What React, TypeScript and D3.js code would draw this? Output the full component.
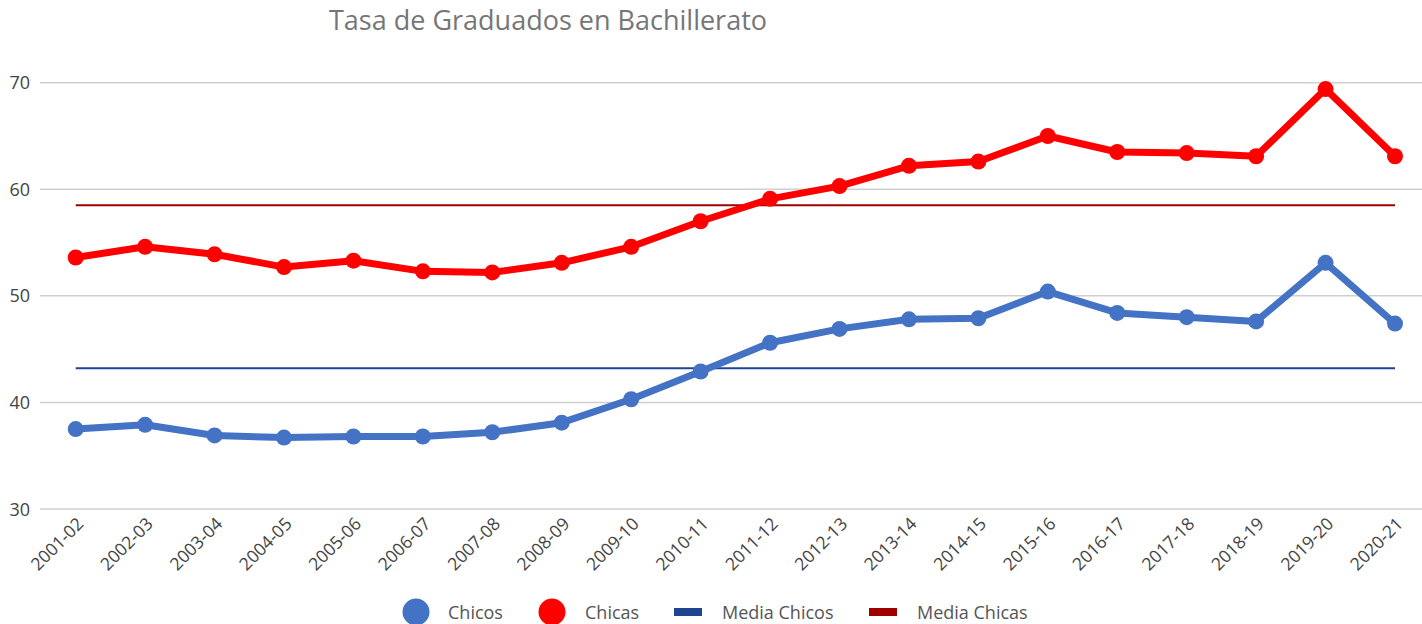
import React, { useEffect, useRef } from 'react';
import * as d3 from 'd3';

const cursos = [
  '2001-02', '2002-03', '2003-04', '2004-05', '2005-06', '2006-07', '2007-08',
  '2008-09', '2009-10', '2010-11', '2011-12', '2012-13', '2013-14', '2014-15',
  '2015-16', '2016-17', '2017-18', '2018-19', '2019-20', '2020-21',
];
const chicos = [
  37.5, 37.9, 36.9, 36.7, 36.8, 36.8, 37.2, 38.1, 40.3, 42.9,
  45.6, 46.9, 47.8, 47.9, 50.4, 48.4, 48.0, 47.6, 53.1, 47.4,
];
const chicas = [
  53.6, 54.6, 53.9, 52.7, 53.3, 52.3, 52.2, 53.1, 54.6, 57.0,
  59.1, 60.3, 62.2, 62.6, 65.0, 63.5, 63.4, 63.1, 69.4, 63.1,
];
const mediaChicos = 43.2;
const mediaChicas = 58.5;
const yTicks = [30, 40, 50, 60, 70];

const W = 1422;
const H = 624;

export default function App() {
  const ref = useRef<SVGSVGElement>(null);

  useEffect(() => {
    if (!ref.current) return;
    const svg = d3.select(ref.current);
    svg.selectAll('*').remove();

    const font = '"Open Sans", "Noto Sans", sans-serif';

    const x = d3.scalePoint<string>().domain(cursos).range([75.7, 1395]);
    const y = d3.scaleLinear().domain([30, 70]).range([509, 82.7]);

    // title
    svg.append('text')
      .attr('x', 548)
      .attr('y', 30)
      .attr('text-anchor', 'middle')
      .style('font-family', font)
      .style('font-size', '27px')
      .style('fill', '#767676')
      .text('Tasa de Graduados en Bachillerato');

    // grid + y labels
    const grid = svg.append('g');
    grid.selectAll('line')
      .data(yTicks)
      .enter()
      .append('line')
      .attr('x1', 40)
      .attr('x2', W)
      .attr('y1', d => y(d))
      .attr('y2', d => y(d))
      .attr('stroke', '#d0d0d0')
      .attr('stroke-width', 1.5);
    grid.selectAll('text')
      .data(yTicks)
      .enter()
      .append('text')
      .attr('x', 30)
      .attr('y', d => y(d) + 6.5)
      .attr('text-anchor', 'end')
      .style('font-family', font)
      .style('font-size', '18px')
      .style('fill', '#444')
      .text(d => d);

    // x labels
    svg.append('g')
      .selectAll('text')
      .data(cursos)
      .enter()
      .append('text')
      .attr('transform', d => `translate(${(x(d) as number) + 9},${525}) rotate(-45)`)
      .attr('text-anchor', 'end')
      .style('font-family', font)
      .style('font-size', '17.5px')
      .style('fill', '#444')
      .text(d => d);

    // mean lines
    const x0 = x(cursos[0]) as number;
    const x1 = x(cursos[cursos.length - 1]) as number;
    svg.append('line')
      .attr('x1', x0).attr('x2', x1)
      .attr('y1', y(mediaChicas)).attr('y2', y(mediaChicas))
      .attr('stroke', '#9e0000').attr('stroke-width', 2);
    svg.append('line')
      .attr('x1', x0).attr('x2', x1)
      .attr('y1', y(mediaChicos)).attr('y2', y(mediaChicos))
      .attr('stroke', '#1f4591').attr('stroke-width', 2);

    const line = d3.line<number>()
      .x((_, i) => x(cursos[i]) as number)
      .y(d => y(d));

    const series = [
      { values: chicos, color: '#4472c4' },
      { values: chicas, color: '#ff0000' },
    ];
    series.forEach(s => {
      svg.append('path')
        .datum(s.values)
        .attr('d', line)
        .attr('fill', 'none')
        .attr('stroke', s.color)
        .attr('stroke-width', 7)
        .attr('stroke-linejoin', 'round');
      svg.append('g')
        .selectAll('circle')
        .data(s.values)
        .enter()
        .append('circle')
        .attr('cx', (_, i) => x(cursos[i]) as number)
        .attr('cy', d => y(d))
        .attr('r', 8)
        .attr('fill', s.color);
    });

    // legend
    const legend = svg.append('g').style('font-family', font).style('font-size', '18px').style('fill', '#555');
    const ly = 612;
    const tb = 619;
    legend.append('circle').attr('cx', 416).attr('cy', ly).attr('r', 13.5).attr('fill', '#4472c4');
    legend.append('text').attr('x', 448).attr('y', tb).text('Chicos');
    legend.append('circle').attr('cx', 552).attr('cy', ly).attr('r', 13.5).attr('fill', '#ff0000');
    legend.append('text').attr('x', 585).attr('y', tb).text('Chicas');
    legend.append('rect').attr('x', 674).attr('y', 608).attr('width', 28).attr('height', 8).attr('fill', '#1f4591');
    legend.append('text').attr('x', 722).attr('y', tb).text('Media Chicos');
    legend.append('rect').attr('x', 869).attr('y', 608).attr('width', 28).attr('height', 8).attr('fill', '#9e0000');
    legend.append('text').attr('x', 917).attr('y', tb).text('Media Chicas');
  }, []);

  return (
    <svg
      ref={ref}
      width={W}
      height={H}
      style={{ position: 'absolute', left: 0, top: 0, background: '#fff' }}
    />
  );
}
